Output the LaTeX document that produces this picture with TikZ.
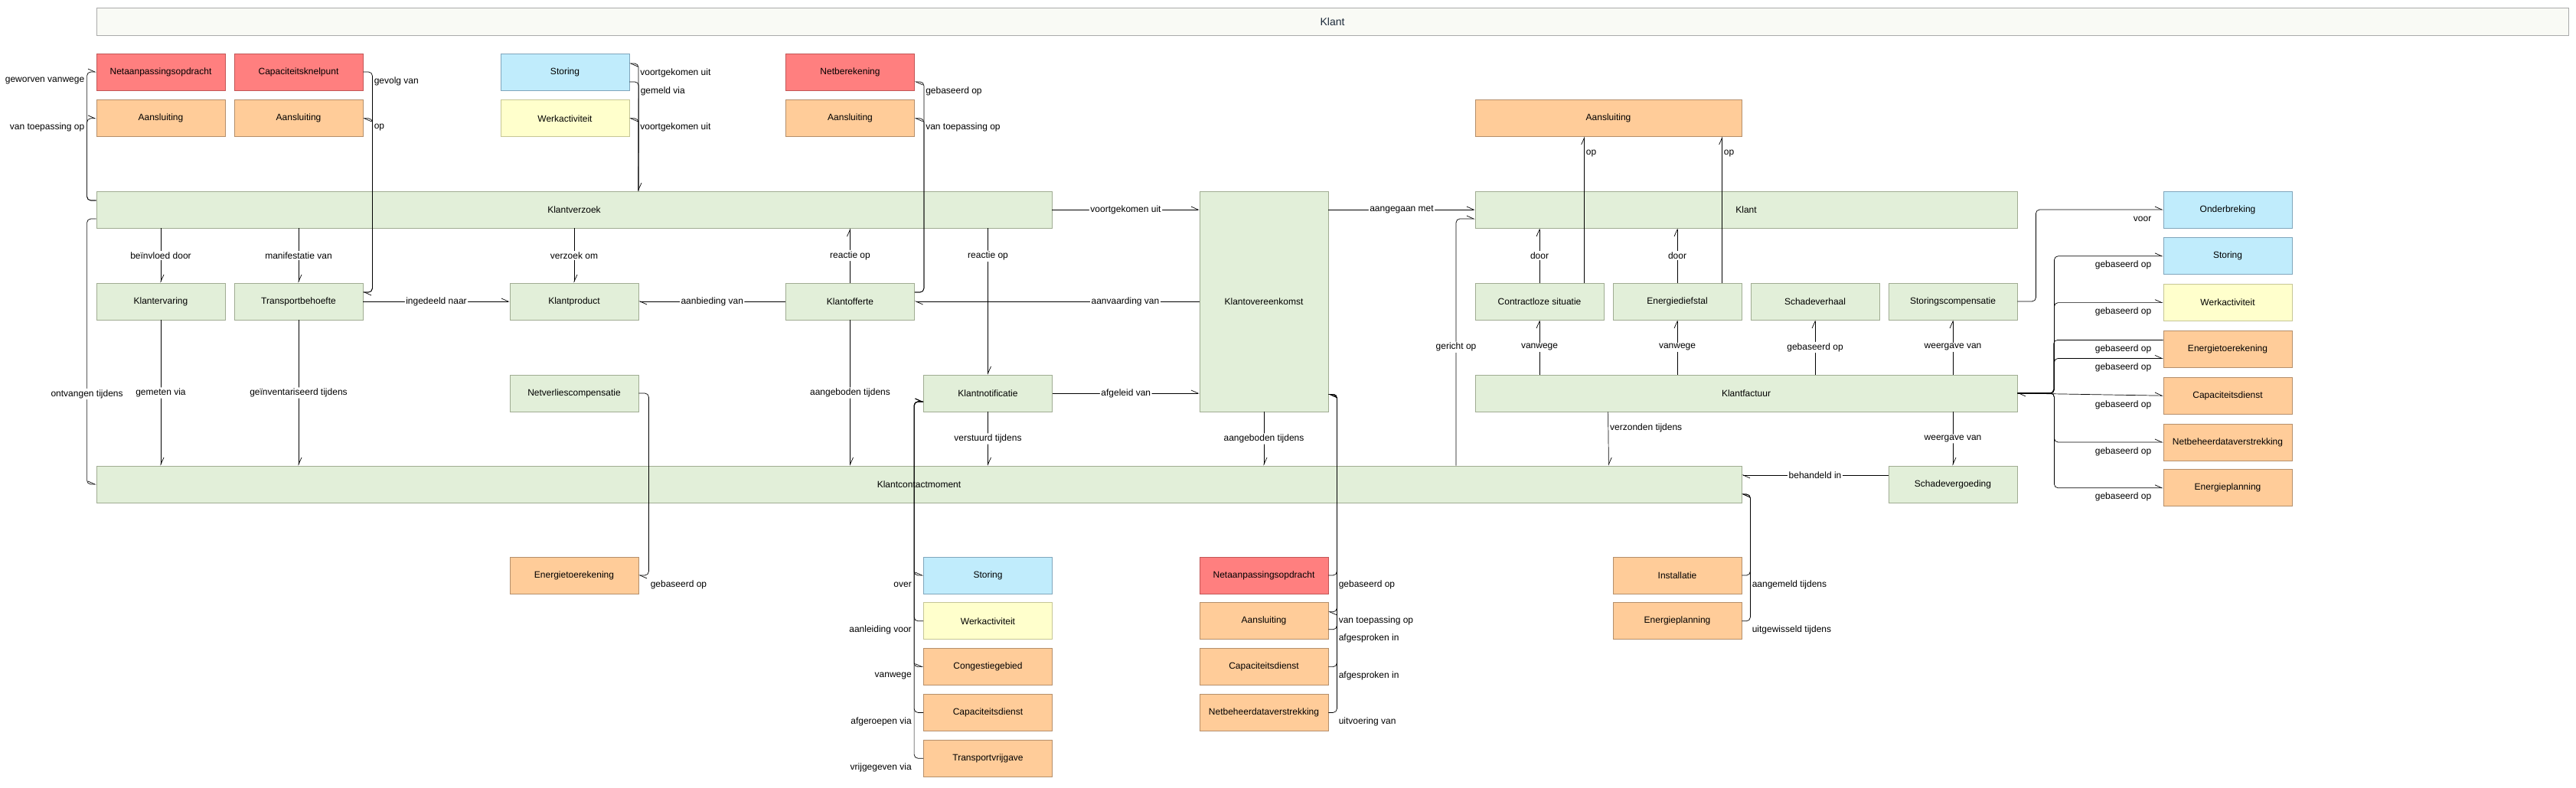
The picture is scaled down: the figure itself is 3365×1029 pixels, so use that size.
\documentclass[tikz,border=0pt]{standalone}
\usepackage{fontspec}
\setmainfont{Liberation Sans}
\usetikzlibrary{arrows.meta,positioning,calc}
\definecolor{grnfill}{HTML}{E2EFD9}
\definecolor{grnline}{HTML}{A0AC92}
\definecolor{redfill}{HTML}{FF7F7F}
\definecolor{redline}{HTML}{C25656}
\definecolor{orgfill}{HTML}{FFCC99}
\definecolor{orgline}{HTML}{B58F6B}
\definecolor{blufill}{HTML}{C0ECFC}
\definecolor{bluline}{HTML}{80A6BC}
\definecolor{yelfill}{HTML}{FFFFCC}
\definecolor{yelline}{HTML}{C6C695}
\definecolor{hdrfill}{HTML}{F9FAF5}
\definecolor{hdrline}{HTML}{AAAAAA}
\definecolor{hdrtext}{HTML}{1C2A3A}
\newcommand{\labfont}{\fontsize{12}{14}\selectfont}
\tikzset{
  box/.style={draw,line width=0.8pt,minimum width=168pt,minimum height=48pt,inner sep=0pt,
    font=\labfont,text=black},
  grn/.style={box,fill=grnfill,draw=grnline},
  red/.style={box,fill=redfill,draw=redline},
  org/.style={box,fill=orgfill,draw=orgline},
  blu/.style={box,fill=blufill,draw=bluline},
  yel/.style={box,fill=yelfill,draw=yelline},
  conn/.style={line width=0.7pt,rounded corners=5pt,-{Straight Barb[left,length=9pt,width=8pt]}},
  lab/.style={fill=white,inner sep=1.5pt,font=\labfont},
  sidel/.style={anchor=east,xshift=-3pt,yshift=-12pt,inner sep=0pt,font=\labfont},
  sider/.style={anchor=west,xshift=2pt,yshift=-12pt,inner sep=0pt,font=\labfont},
  tgtl/.style={anchor=east,xshift=-15pt,yshift=-12pt,inner sep=0pt,font=\labfont},
  opl/.style={anchor=west,xshift=2pt,inner sep=0pt,font=\labfont}
}

\begin{document}
\begin{tikzpicture}[x=1pt,y=-1pt]
  \useasboundingbox (0,0) rectangle (3365,1029);
  \fill[white] (0,0) rectangle (3365,1029);
  \node[draw=hdrline,fill=hdrfill,line width=0.8pt,minimum width=3229pt,minimum height=36pt,
    text=hdrtext,font=\fontsize{14}{16}\selectfont] (hdr) at (1740.5,28) {Klant};

  % left block
  \node[red] (nao1) at (210,94) {Netaanpassingsopdracht};
  \node[red] (ckp) at (390,94) {Capaciteitsknelpunt};
  \node[blu] (sto1) at (738,94) {Storing};
  \node[red] (nbr) at (1110.5,94) {Netberekening};
  \node[org,below=12pt of nao1] (aan1) {Aansluiting};
  \node[org,below=12pt of ckp] (aan2) {Aansluiting};
  \node[yel,below=12pt of sto1] (wka1) {Werkactiviteit};
  \node[org,below=12pt of nbr] (aan3) {Aansluiting};
  \node[org,minimum width=348pt] (aan4) at (2101,154) {Aansluiting};

  \node[grn,minimum width=1248pt] (kvz) at (750,274) {Klantverzoek};
  \node[grn,minimum height=288pt] (kov) at (1651,394) {Klantovereenkomst};
  \node[grn,minimum width=708pt] (klant) at (2281,274) {Klant};

  \node[grn] (kev) at (210,394) {Klantervaring};
  \node[grn] (tbh) at (390,394) {Transportbehoefte};
  \node[grn] (kpr) at (750,394) {Klantproduct};
  \node[grn] (kof) at (1110.5,394) {Klantofferte};
  \node[grn] (cls) at (2011,394) {Contractloze situatie};
  \node[grn] (edf) at (2191,394) {Energiediefstal};
  \node[grn] (svh) at (2371,394) {Schadeverhaal};
  \node[grn] (scp) at (2551,394) {Storingscompensatie};

  \node[grn] (nvc) at (750,514) {Netverliescompensatie};
  \node[grn] (kno) at (1290.5,514) {Klantnotificatie};
  \node[grn,minimum width=708pt] (kfa) at (2281,514) {Klantfactuur};

  \node[grn,minimum width=2149pt] (kcm) at (1200.5,633) {Klantcontactmoment};
  \node[grn] (svg) at (2551,633) {Schadevergoeding};

  % right stack
  \node[blu] (ond) at (2910,274) {Onderbreking};
  \node[blu,below=12pt of ond] (sto2) {Storing};
  \node[yel,below=12pt of sto2] (wka2) {Werkactiviteit};
  \node[org,below=12pt of wka2] (etr1) {Energietoerekening};
  \node[org,below=12pt of etr1] (cdi1) {Capaciteitsdienst};
  \node[org,below=12pt of cdi1] (nbd1) {Netbeheerdataverstrekking};
  \node[org,below=11pt of nbd1] (epl1) {Energieplanning};

  % bottom stacks
  \node[org] (etr2) at (750,752) {Energietoerekening};
  \node[blu] (sto3) at (1290.5,752) {Storing};
  \node[yel,below=11pt of sto3] (wka3) {Werkactiviteit};
  \node[org,below=11pt of wka3] (cgb) {Congestiegebied};
  \node[org,below=11pt of cgb] (cdi3) {Capaciteitsdienst};
  \node[org,below=11pt of cdi3] (tvg) {Transportvrijgave};
  \node[red] (nao2) at (1651,752) {Netaanpassingsopdracht};
  \node[org,below=11pt of nao2] (aan5) {Aansluiting};
  \node[org,below=11pt of aan5] (cdi2) {Capaciteitsdienst};
  \node[org,below=11pt of cdi2] (nbd2) {Netbeheerdataverstrekking};
  \node[org] (ins) at (2191,752) {Installatie};
  \node[org,below=11pt of ins] (epl2) {Energieplanning};

  \coordinate (tH) at (1902,0);

  % Klantverzoek
  \draw[conn] ([yshift=12pt]kvz.west) -- ++(-12,0) |- node[sidel,pos=0.5]{geworven vanwege} (nao1.west);
  \draw[conn] ([yshift=12pt]kvz.west) -- ++(-12,0) |- node[sidel,pos=0.5]{van toepassing op} (aan1.west);
  \draw[conn] ([yshift=-12pt]kvz.west) -- ++(-12,0) |- node[lab,pos=0.33]{ontvangen tijdens} (kcm.west);
  \draw[conn] (kvz.south -| kev) -- node[lab]{beïnvloed door} (kev.north);
  \draw[conn] (kvz.south -| tbh) -- node[lab]{manifestatie van} (tbh.north);
  \draw[conn] (kvz.south -| kpr) -- node[lab]{verzoek om} (kpr.north);
  \draw[conn] ([xshift=84pt]kvz.north) |- node[sider,pos=0.5]{voortgekomen uit} ([yshift=11pt]sto1.east);
  \draw[conn] ([yshift=-13pt]sto1.east) -- ++(12,0) node[sider]{gemeld via} -- ([xshift=84pt]kvz.north);
  \draw[conn] ([xshift=84pt]kvz.north) |- node[sider,pos=0.5]{voortgekomen uit} (wka1.east);
  \draw[conn] (kvz.south -| kno) -- node[lab,pos=0.19]{reactie op} (kno.north);
  \draw[conn] (kvz.east) -- node[lab]{voortgekomen uit} (kov.west |- kvz.east);

  % Transportbehoefte, Klantofferte
  \draw[conn] (tbh.east) -- node[lab]{ingedeeld naar} (kpr.west);
  \draw[conn] (ckp.east) -- ++(12,0) node[sider]{gevolg van} |- ([yshift=12pt]tbh.east);
  \draw[conn] ([yshift=12pt]tbh.east) -- ++(12,0) |- node[sider,pos=0.5]{op} (aan2.east);
  \draw[conn] (kev.south) -- node[lab]{gemeten via} (kcm.north -| kev);
  \draw[conn] (tbh.south) -- node[lab]{geïnventariseerd tijdens} (kcm.north -| tbh);
  \draw[conn] ([yshift=12pt]kof.east) -- ++(12,0) |- node[sider,pos=0.5]{gebaseerd op} ([yshift=-13pt]nbr.east);
  \draw[conn] ([yshift=12pt]kof.east) -- ++(12,0) |- node[sider,pos=0.5]{van toepassing op} (aan3.east);
  \draw[conn] (kof.north) -- node[lab]{reactie op} (kvz.south -| kof);
  \draw[conn] (kof.west) -- node[lab]{aanbieding van} (kpr.east);
  \draw[conn] (kov.west) -- node[lab,pos=0.26]{aanvaarding van} (kof.east);
  \draw[conn] (kof.south) -- node[lab]{aangeboden tijdens} (kcm.north -| kof);
  \draw[conn] (nvc.east) -- ++(13,0) |- node[sider,pos=0.5]{gebaseerd op} (etr2.east);

  % Klantnotificatie
  \draw[conn] (kno.east) -- node[lab]{afgeleid van} (kov.west |- kno.east);
  \draw[conn] (kno.south) -- node[lab]{verstuurd tijdens} (kcm.north -| kno);
  \draw[conn] ([yshift=-11pt]kno.west) -- ++(-12,0) |- node[sidel,pos=0.5]{over} (sto3.west);
  \draw[conn] (wka3.west) -- ++(-12,0) node[sidel]{aanleiding voor} |- ([yshift=-11pt]kno.west);
  \draw[conn] ([yshift=-11pt]kno.west) -- ++(-12,0) |- node[sidel,pos=0.5]{vanwege} (cgb.west);
  \draw[conn] (cdi3.west) -- ++(-12,0) node[sidel]{afgeroepen via} |- ([yshift=-11pt]kno.west);
  \draw[conn] (tvg.west) -- ++(-12,0) node[sidel]{vrijgegeven via} |- ([yshift=-11pt]kno.west);

  % Klantovereenkomst
  \draw[conn] (kov.south) -- node[lab]{aangeboden tijdens} (kcm.north -| kov);
  \draw[conn] (kov.east |- klant.west) -- node[lab]{aangegaan met} (klant.west);
  \draw[conn] (nao2.east) -- ++(11,0) node[sider]{gebaseerd op} |- ([yshift=23pt]kov.south east);
  \draw[conn] ([yshift=23pt]kov.south east) -- ++(11,0) |- node[sider,pos=0.5]{van toepassing op} ([yshift=12pt]aan5.east);
  \draw[conn] ([yshift=-11pt]aan5.east) -- ++(11,0) node[sider]{afgesproken in} |- ([yshift=23pt]kov.south east);
  \draw[conn] (cdi2.east) -- ++(11,0) node[sider]{afgesproken in} |- ([yshift=23pt]kov.south east);
  \draw[conn] (nbd2.east) -- ++(11,0) node[sider]{uitvoering van} |- ([yshift=23pt]kov.south east);

  % Klant, Klantfactuur
  \draw[conn] (kcm.north -| tH) |- node[lab,pos=0.24]{gericht op} ([yshift=-12pt]klant.west);
  \draw[conn] (cls.north) -- node[lab]{door} (klant.south -| cls);
  \draw[conn] (edf.north) -- node[lab]{door} (klant.south -| edf);
  \draw[conn] ([xshift=143pt]cls.north west) -- node[opl,pos=0.885]{op} ([xshift=143pt]aan4.south west);
  \draw[conn] ([xshift=143pt]edf.north west) -- node[opl,pos=0.885]{op} ([xshift=323pt]aan4.south west);
  \draw[conn] (kfa.north -| cls) -- node[lab]{vanwege} (cls.south);
  \draw[conn] (kfa.north -| edf) -- node[lab]{vanwege} (edf.south);
  \draw[conn] (kfa.north -| svh) -- node[lab]{gebaseerd op} (svh.south);
  \draw[conn] (kfa.north -| scp) -- node[lab]{weergave van} (scp.south);
  \draw[conn] (scp.east) -- ++(24,0) |- (ond.west) node[tgtl]{voor};
  \draw[conn] (kfa.east) -- ++(48,0) |- (sto2.west) node[tgtl]{gebaseerd op};
  \draw[conn] (kfa.east) -- ++(48,0) |- (wka2.west) node[tgtl]{gebaseerd op};
  \draw[conn] ([yshift=12pt]etr1.west) node[tgtl]{gebaseerd op} -- ++(-143,0) |- (kfa.east);
  \draw[conn] (kfa.east) -- ++(48,0) |- ([yshift=-12pt]etr1.west) node[tgtl]{gebaseerd op};
  \draw[conn] (kfa.east) -- (cdi1.west) node[tgtl]{gebaseerd op};
  \draw[conn] (kfa.east) -- ++(48,0) |- (nbd1.west) node[tgtl]{gebaseerd op};
  \draw[conn] (kfa.east) -- ++(48,0) |- (epl1.west) node[tgtl]{gebaseerd op};
  \draw[conn] ([xshift=174pt]kfa.south west) -- node[opl,pos=0.3]{verzonden tijdens} ([xshift=-174pt]kcm.north east);
  \draw[conn] (kfa.south -| svg) -- node[lab]{weergave van} (svg.north);
  \draw[conn] ([yshift=12pt]svg.west) -- node[lab]{behandeld in} ([yshift=12pt]kcm.east);
  \draw[conn] (ins.east) -- ++(11,0) node[sider]{aangemeld tijdens} |- ([yshift=-13pt]kcm.east);
  \draw[conn] (epl2.east) -- ++(11,0) node[sider]{uitgewisseld tijdens} |- ([yshift=-13pt]kcm.east);
\end{tikzpicture}
\end{document}
